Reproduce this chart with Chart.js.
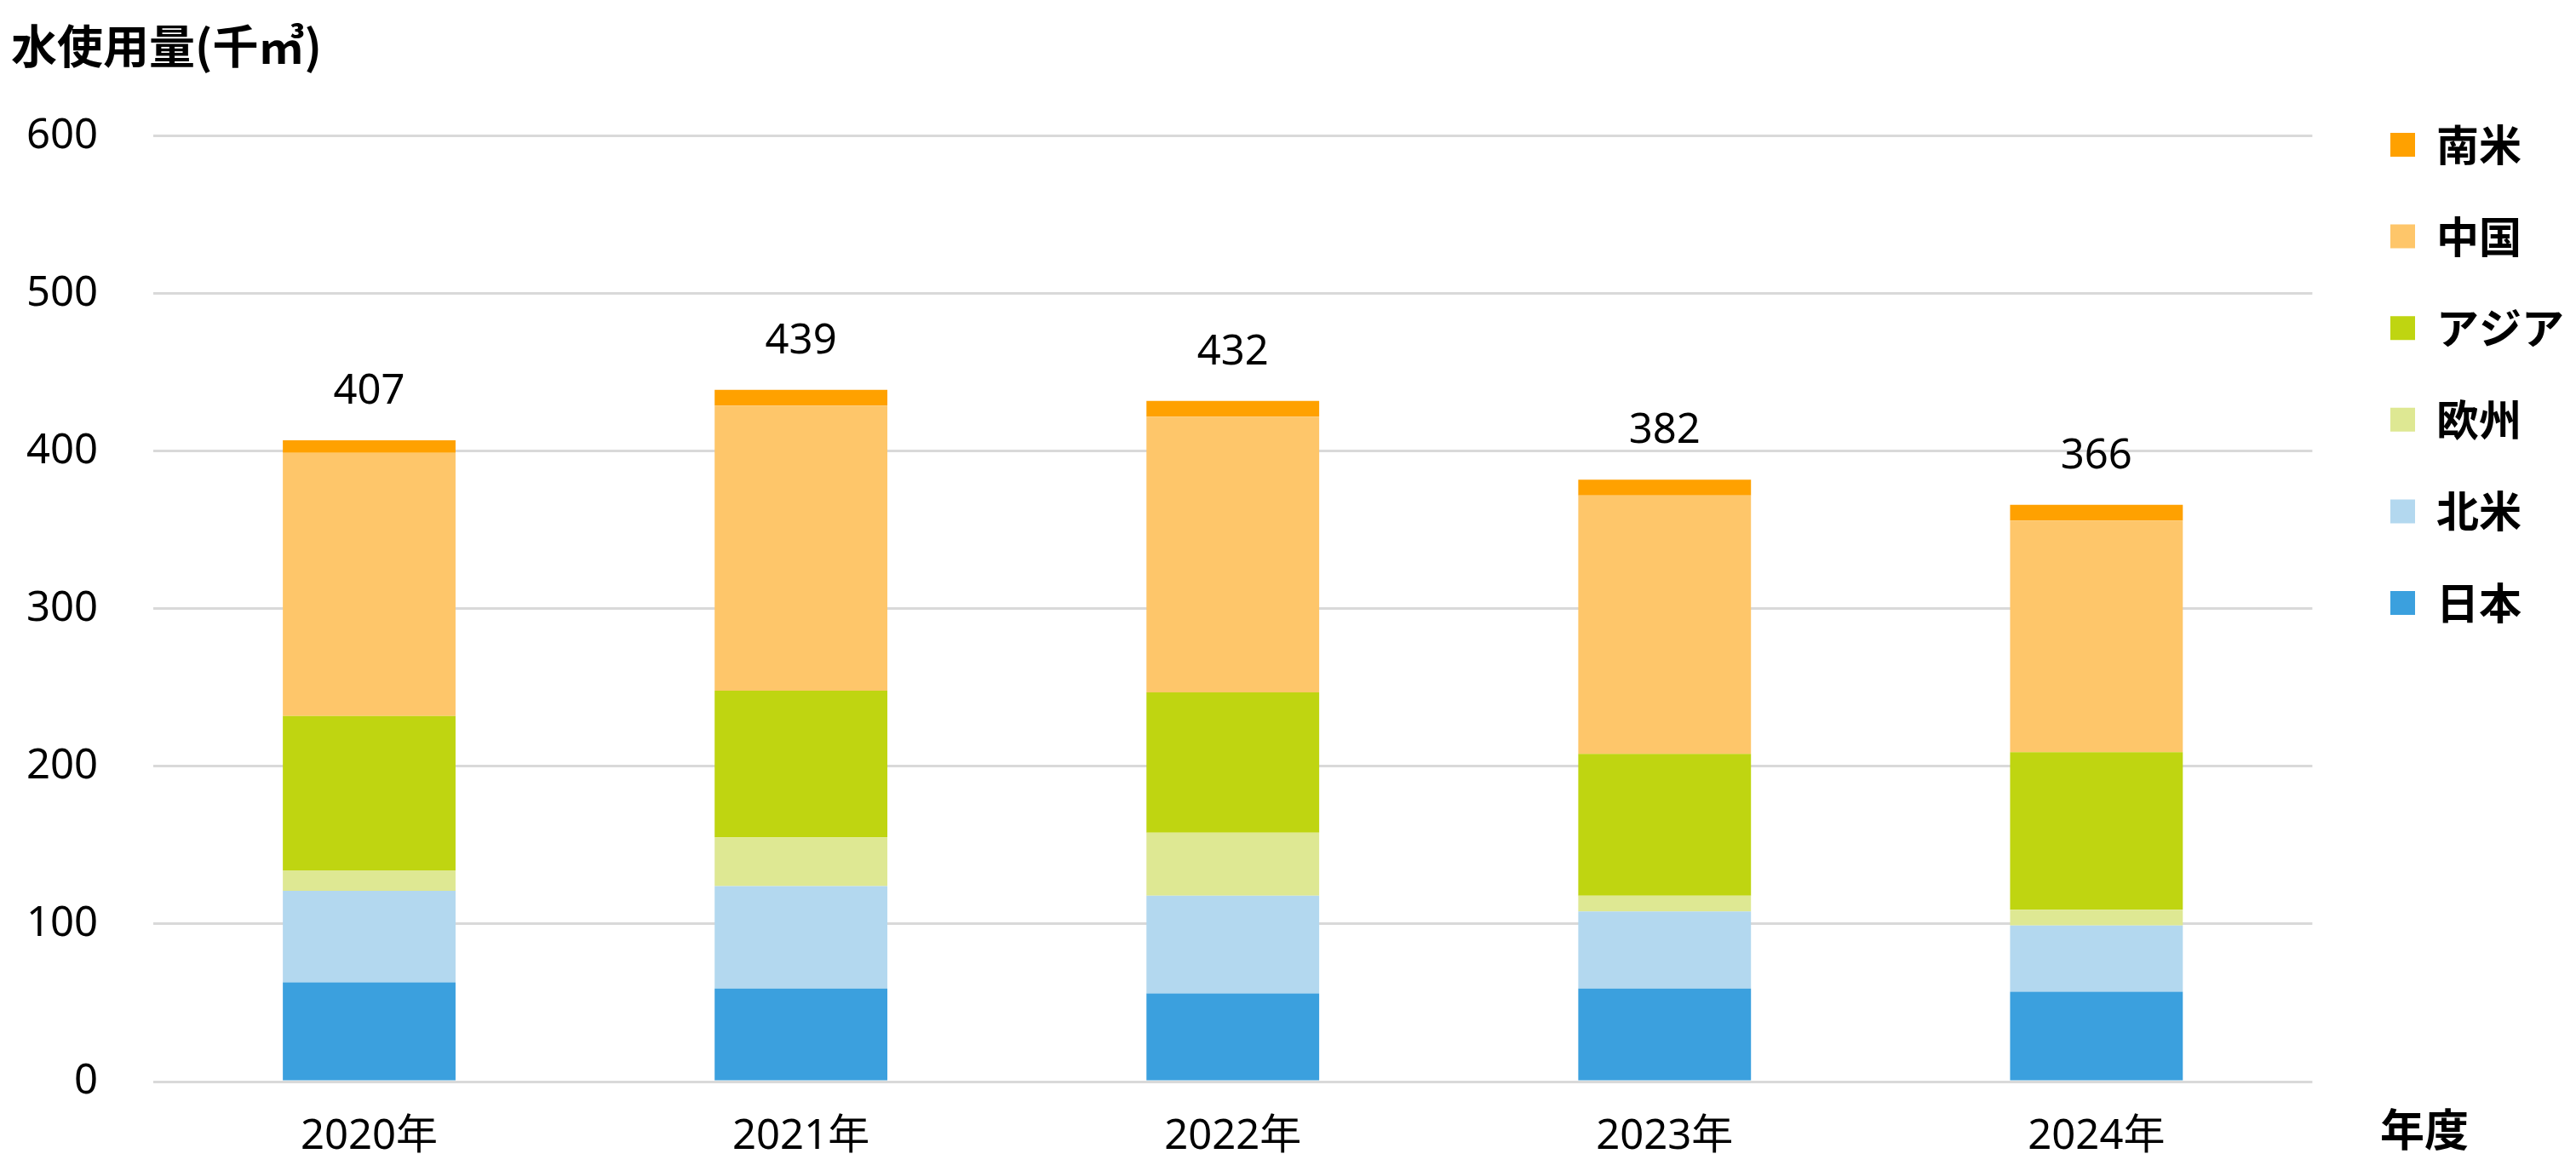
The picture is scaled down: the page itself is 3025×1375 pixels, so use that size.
<!DOCTYPE html>
<html>
<head>
<meta charset="utf-8">
<script src="https://cdn.jsdelivr.net/npm/chart.js@4"></script>
<style>
html,body{margin:0;padding:0;background:#fff;}
#wrap{width:3025px;height:1375px;position:relative;}
</style>
</head>
<body>
<div id="wrap"><canvas id="c"></canvas></div>
<script>
const categories = ['2020年','2021年','2022年','2023年','2024年'];
const japan        = [63, 59, 56, 59, 57];
const northAmerica = [58, 65, 62, 49, 42];
const europe       = [13, 31, 40, 10, 10];
const asia         = [98, 93, 89, 90, 100];
const china        = [167, 181, 175, 164, 147];
const southAmerica = [8, 10, 10, 10, 10];
const yTicks = [0, 100, 200, 300, 400, 500, 600];
const seriesNames = ['日本', '北米', '欧州', 'アジア', '中国', '南米'];
const yAxisTitle = '水使用量(千㎥)';
const xAxisTitle = '年度';

const colors = ['#3ba0de', '#b3d8ef', '#dee893', '#bfd511', '#fec66a', '#ffa100'];
const seriesValues = [japan, northAmerica, europe, asia, china, southAmerica];

const numFont = "'Noto Sans', 'Noto Sans CJK JP', sans-serif";
const cjkFont = "'Noto Sans CJK JP', 'Noto Sans', sans-serif";

const annot = {
  id: 'annot',
  afterLayout(chart) {
    const lg = chart.legend;
    if (!lg) return;
    const pad = lg.options.labels.padding;
    const dx = (2807 - pad) - lg.left;
    const dy = (145 - pad) - lg.top;
    lg.left += dx; lg.right += dx;
    lg.top += dy; lg.bottom += dy;
  },
  afterDatasetsDraw(chart) {
    const ctx = chart.ctx;
    const n = chart.data.datasets.length;
    const last = chart.getDatasetMeta(n - 1);
    ctx.save();
    ctx.fillStyle = '#000';
    ctx.textAlign = 'center';
    ctx.textBaseline = 'middle';
    ctx.font = "49px " + numFont;
    last.data.forEach((bar, i) => {
      const total = chart.data.datasets.reduce((s, d) => s + d.data[i], 0);
      ctx.fillText(String(total), bar.x, bar.y - 57);
    });
    ctx.font = "bold 52px " + cjkFont;
    ctx.fillText(xAxisTitle, 2847, 1326);
    ctx.restore();
  }
};

new Chart(document.getElementById('c'), {
  type: 'bar',
  data: {
    labels: categories,
    datasets: seriesNames.map((name, i) => ({
      label: name,
      data: seriesValues[i],
      backgroundColor: colors[i],
      borderWidth: 0,
      barPercentage: 0.4,
      categoryPercentage: 1.0
    }))
  },
  options: {
    responsive: true,
    maintainAspectRatio: false,
    devicePixelRatio: 1,
    animation: false,
    layout: { padding: { left: 13, top: 0, right: 38, bottom: 0 } },
    plugins: {
      title: {
        display: true,
        text: yAxisTitle,
        align: 'start',
        color: '#000',
        font: { family: cjkFont, size: 54, weight: 'bold' },
        padding: { top: 22, bottom: 73 }
      },
      legend: {
        position: 'right',
        align: 'start',
        reverse: true,
        labels: {
          boxWidth: 29,
          boxHeight: 28,
          padding: 57.6,
          color: '#000',
          font: { family: cjkFont, size: 50, weight: 'bold' }
        }
      },
      tooltip: { enabled: false }
    },
    scales: {
      x: {
        stacked: true,
        afterFit(s) { s.height = 105; },
        grid: { display: false, drawTicks: false },
        border: { display: false },
        ticks: { padding: 36, color: '#000', font: { family: numFont, size: 49 } }
      },
      y: {
        stacked: true,
        min: 0,
        max: 600,
        afterBuildTicks(s) { s.ticks = yTicks.map(v => ({ value: v })); },
        afterFit(s) { s.width = 167; },
        grid: { color: '#d9d9d9', lineWidth: 3, drawTicks: false },
        border: { display: false },
        ticks: { padding: 65, color: '#000', font: { family: numFont, size: 49 } }
      }
    }
  },
  plugins: [annot]
});
</script>
</body>
</html>
